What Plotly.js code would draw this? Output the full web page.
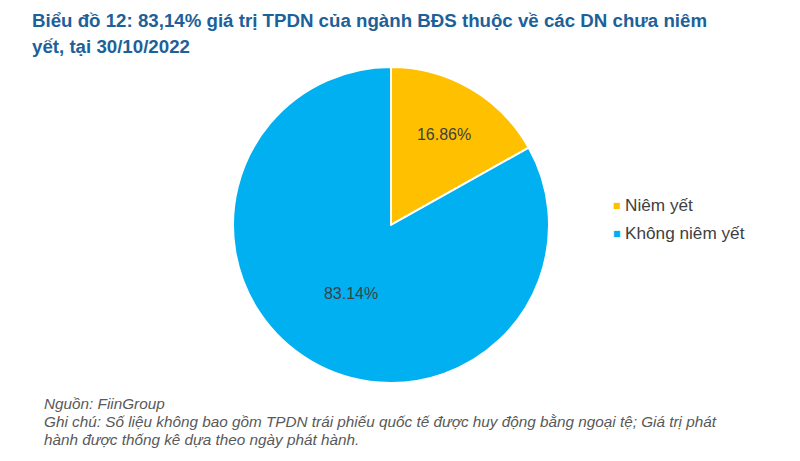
<!DOCTYPE html>
<html><head><meta charset="utf-8">
<script src="https://cdn.plot.ly/plotly-3.0.1.min.js"></script>
<style>html,body{margin:0;padding:0;background:#fff}#chart{width:800px;height:461px}</style>
</head><body><div id="chart"></div>
<script>
const labels = ["Niêm yết", "Không niêm yết"];
const values = [16.86, 83.14];
const colors = ["#FFC000", "#00B0F0"];
const titleLines = ["Biểu đồ 12: 83,14% giá trị TPDN của ngành BĐS thuộc về các DN chưa niêm",
  "yết, tại 30/10/2022"];
const notes = ["Nguồn: FiinGroup",
  "Ghi chú: Số liệu không bao gồm TPDN trái phiếu quốc tế được huy động bằng ngoại tệ; Giá trị phát",
  "hành được thống kê dựa theo ngày phát hành."];

const FONT = "Liberation Sans, Arial, sans-serif";
const H = 461, W = 800;
const py = px => 1 - px / H;

const trace = {
  type: "pie", labels: labels, values: values, sort: false, direction: "clockwise", rotation: 0,
  marker: {colors: colors, line: {color: "#ffffff", width: 2}},
  texttemplate: "%{value:.2f}%", textposition: "inside", insidetextorientation: "horizontal",
  textfont: {family: FONT, size: 16, color: "#404040"},
  hoverinfo: "label+percent",
  domain: {x: [0.29125, 0.68625], y: [0.1692, 0.8547]}
};

const annotations = [];
titleLines.forEach((t, i) => annotations.push({
  text: "<b>" + t + "</b>", xref: "paper", yref: "paper", x: 30 / W, xanchor: "left",
  y: py(20 + i * 26), yanchor: "middle", showarrow: false, align: "left",
  font: {family: FONT, size: 18.7, color: "#1C6199"}
}));
notes.forEach((t, i) => annotations.push({
  text: "<i>" + t + "</i>", xref: "paper", yref: "paper", x: 42 / W, xanchor: "left",
  y: py(403 + i * 18), yanchor: "middle", showarrow: false, align: "left",
  font: {family: FONT, size: 15.3, color: "#595959"}
}));
labels.forEach((t, i) => {
  annotations.push({
    text: "■", xref: "paper", yref: "paper", x: 617 / W, xanchor: "center",
    y: py(205 + i * 28), yanchor: "middle", showarrow: false,
    font: {family: "DejaVu Sans", size: 8, color: colors[i]}
  });
  annotations.push({
    text: t, xref: "paper", yref: "paper", x: 623 / W, xanchor: "left",
    y: py(205 + i * 28), yanchor: "middle", showarrow: false,
    font: {family: FONT, size: 17.2, color: "#404040"}
  });
});

const layout = {
  width: W, height: H, margin: {l: 0, r: 0, t: 0, b: 0},
  paper_bgcolor: "#ffffff",
  font: {family: FONT, color: "#404040"},
  showlegend: false,
  annotations: annotations
};
Plotly.newPlot("chart", [trace], layout, {displayModeBar: false});
</script></body></html>
